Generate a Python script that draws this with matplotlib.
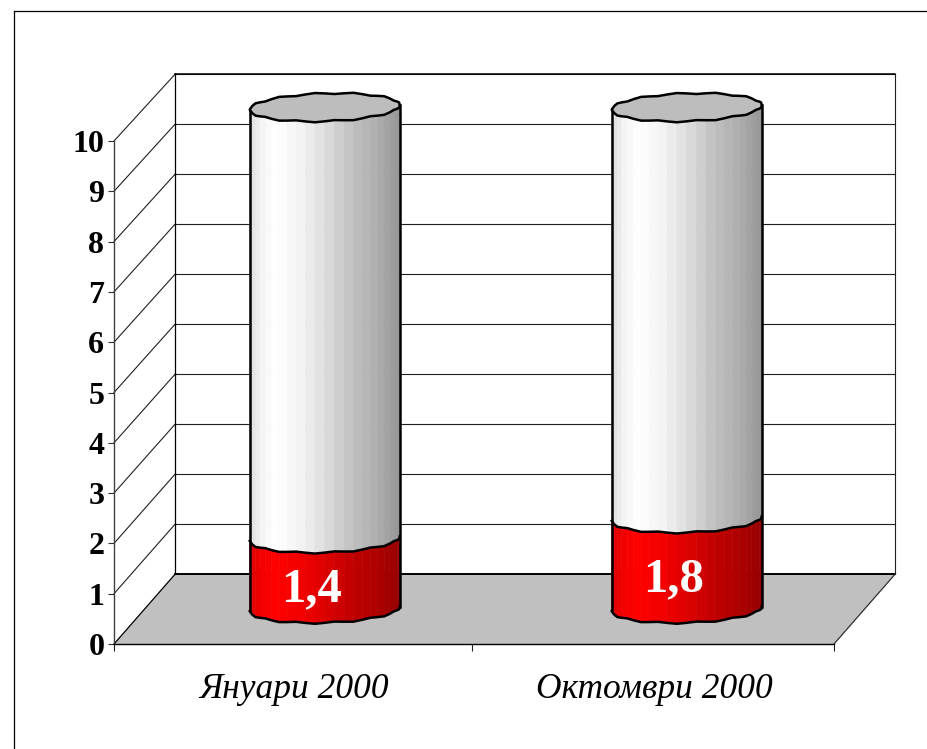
import numpy as np
import matplotlib
matplotlib.use("Agg")
import matplotlib.pyplot as plt
from matplotlib.lines import Line2D

categories = ["Януари 2000", "Октомври 2000"]
values = [1.4, 1.8]
value_labels = ["1,4", "1,8"]
stack_total = [10, 10]
y_ticks = list(range(0, 11))

W, H = 928, 749
fig = plt.figure(figsize=(W / 100, H / 100), dpi=100, facecolor="white")
L, R, B, T = 114, 834, 644, 141
ax = fig.add_axes([L / W, (H - B) / H, (R - L) / W, (B - T) / H])
ax.set_xlim(0, len(categories))
ax.set_ylim(0, 10)
ax.patch.set_visible(False)

PX = (R - L) / len(categories)      # px per category unit
PY = (B - T) / 10                   # px per value unit
DEPTH_X, DEPTH_Y, BACK_SCALE = 61.5, 70.3, 0.994


def proj(x, v, d):
    """Oblique projection of (category x, value v, depth d 0..1) into data coords."""
    return (np.asarray(x) + d * DEPTH_X / PX,
            np.asarray(v) * (1 - d * (1 - BACK_SCALE)) + d * DEPTH_Y / PY)


def poly(xs, vs, d=0.0, **kw):
    px, pv = proj(xs, vs, d)
    return ax.fill(px, pv, clip_on=False, **kw)


def seg(p, q, **kw):
    a, b = proj(*p), proj(*q)
    ax.plot([a[0], b[0]], [a[1], b[1]], clip_on=False, solid_capstyle="projecting", **kw)


n = len(categories)
# back wall and side wall
wx0, wv0 = proj(0, 0, 1)
wx1, wv1 = proj(n, 10, 1)
ax.fill([wx0, wx1, wx1, wx0], [wv0, wv0, wv1, wv1], color="white", zorder=1, clip_on=False)
# floor
fx, fv = zip(*[proj(0, 0, 0), proj(n, 0, 0), proj(n, 0, 1), proj(0, 0, 1)])
ax.fill(fx, fv, facecolor="#C0C0C0", edgecolor="none", zorder=2, clip_on=False)

for v in y_ticks[1:]:
    lw = 0.8
    seg((0, v, 0), (0, v, 1), color="#202020", lw=lw, zorder=2)
    seg((0, v, 1), (n, v, 1), color="#202020", lw=lw, zorder=2)
seg((0, 0, 1), (0, 10, 1), color="black", lw=0.9, zorder=3)
seg((n, 0, 1), (n, 10, 1), color="#202020", lw=0.8, zorder=3)
seg((0, 10, 1), (n, 10, 1), color="black", lw=1.1, zorder=3)
seg((0, 0, 1), (n, 0, 1), color="black", lw=1.4, zorder=3)
seg((0, 0, 0), (0, 0, 1), color="black", lw=0.9, zorder=3)
seg((n, 0, 0), (n, 0, 1), color="#303030", lw=0.9, zorder=3)

# cylinder geometry
HALF_W = 75 / PX
ELL = 14.0 / PY
TILT = 2.3 / PY
WOB = 0.8 / PY
N_F = 24
STOP_U = [-1.0, -0.85, -0.65, -0.3, 0.0, 0.35, 0.7, 0.9, 1.0]
STOP_L = [0.86, 0.95, 1.0, 0.95, 0.87, 0.76, 0.68, 0.62, 0.58]


def ring(cx, v, t):
    return (cx + HALF_W * np.cos(t),
            v + ELL * np.sin(t) + TILT * np.cos(t) + WOB * np.sin(12 * t))


def front_section(cx, v0, v1, base, zorder):
    t = np.linspace(np.pi, 2 * np.pi, N_F + 1)
    x0, y0 = ring(cx, v0, t)
    x1, y1 = ring(cx, v1, t)
    for i in range(N_F):
        u = ((x0[i] + x0[i + 1]) / 2 - cx) / HALF_W
        l = np.interp(u, STOP_U, STOP_L)
        col = tuple(c * l for c in base)
        poly([x0[i], x0[i + 1], x1[i + 1], x1[i]], [y0[i], y0[i + 1], y1[i + 1], y1[i]], d=0.5,
             facecolor=col, edgecolor=col, lw=0.4, zorder=zorder)
    return x0, y0, x1, y1


OFFS = [0.0, 2.0]  # px nudges of the cylinders inside their slots
for i, (val, tot, lab) in enumerate(zip(values, stack_total, value_labels)):
    cx = i + 0.5 + OFFS[i] / PX
    front_section(cx, 0, val, (1, 0, 0), 5)
    front_section(cx, val, tot, (1, 1, 1), 5)
    t_f = np.linspace(np.pi, 2 * np.pi, N_F + 1)
    t_a = np.linspace(0, 2 * np.pi, 2 * N_F + 1)
    for v in (0, val):
        x, y = ring(cx, v, t_f)
        px, pv = proj(x, y, 0.5)
        ax.plot(px, pv, color="black", lw=1.8, zorder=7, clip_on=False, solid_joinstyle="miter")
    x, y = ring(cx, tot, t_a)
    poly(x, y, d=0.5, facecolor="#BDBDBD", edgecolor="black", lw=1.8, zorder=8, joinstyle="round")
    # silhouette sides
    for tt in (np.pi, 2 * np.pi):
        xa, ya = ring(cx, 0, np.array([tt]))
        xb, yb = ring(cx, tot, np.array([tt]))
        pa = proj(xa, ya, 0.5)
        pb = proj(xb, yb, 0.5)
        ax.plot([pa[0][0], pb[0][0]], [pa[1][0], pb[1][0]], color="black", lw=1.8, zorder=7, clip_on=False)
    lx, lv = proj(cx, val / 2, 0.5)
    ax.annotate(lab, (lx, lv), xytext=(-13 / 1.389, -16 / 1.389), textcoords="offset points",
                ha="center", va="center", color="white", fontsize=35, fontweight="bold",
                family="Liberation Serif", zorder=10, annotation_clip=False)

# axes
for s in ("top", "right"):
    ax.spines[s].set_visible(False)
ax.spines["left"].set_color("#404040")
ax.spines["left"].set_linewidth(1.0)
ax.spines["bottom"].set_color("black")
ax.spines["bottom"].set_linewidth(1.0)
ax.spines["left"].set_zorder(4)
ax.spines["bottom"].set_zorder(4)
ax.set_yticks(y_ticks)
ax.set_yticklabels([str(v) for v in y_ticks], family="Liberation Serif", fontweight="bold",
                   fontsize=23, color="black")
ax.tick_params(axis="y", length=4.5, width=0.8, color="#303030", pad=2.5)
TICK_NUDGE = np.array([0.0, -2.0, 0.0]) / PX
ax.set_xticks(np.arange(n + 1) + TICK_NUDGE)
ax.set_xticklabels([])
ax.tick_params(axis="x", which="major", length=5, width=0.8, color="#202020")
ax.set_xticks(np.arange(n) + 0.5, minor=True)
ax.set_xticklabels(categories, minor=True, family="Liberation Serif", style="italic",
                   fontsize=25.5, color="black")
ax.tick_params(axis="x", which="minor", length=0, pad=21)

# outer frame
fig.add_artist(Line2D([14.5 / W, 14.5 / W], [0, 1 - 10.5 / H], color="black", lw=0.9))
fig.add_artist(Line2D([14.5 / W, 1], [1 - 10.5 / H, 1 - 10.5 / H], color="black", lw=0.9))

fig.savefig("out.png", dpi=100, facecolor="white")
